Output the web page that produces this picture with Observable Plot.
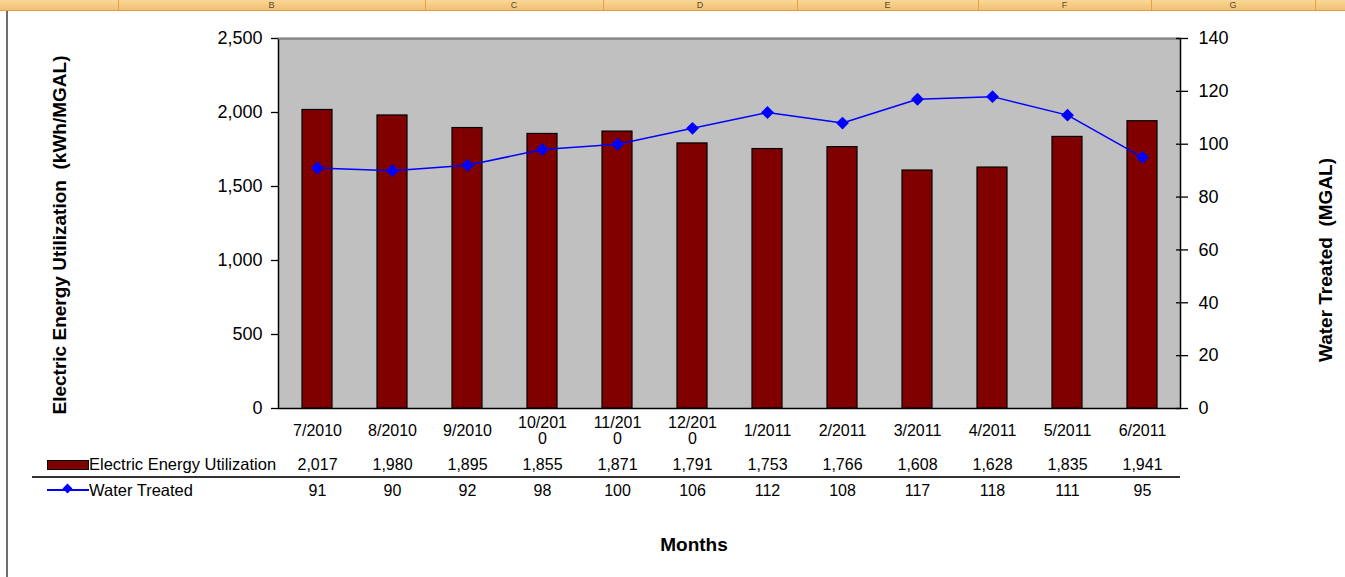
<!DOCTYPE html>
<html>
<head>
<meta charset="utf-8">
<script src="https://cdn.jsdelivr.net/npm/d3@7"></script>
<script src="https://cdn.jsdelivr.net/npm/@observablehq/plot@0.6"></script>
<style>
  html, body { margin: 0; padding: 0; background: #fff; }
  body { width: 1345px; height: 577px; position: relative; overflow: hidden; font-family: "Liberation Sans", Arial, sans-serif; }
  #chart { position: absolute; left: 0; top: 0; }
  .hdr { position: absolute; left: 0; top: 0; width: 1345px; height: 10px; overflow: hidden;
         background: linear-gradient(#f9d798, #f2c071); border-bottom: 1px solid #e39a45; z-index: 5; }
  .hdr .sep { position: absolute; top: 0; width: 1px; height: 10px; background: #e6a04d; }
  .hdr .col { position: absolute; top: 0px; font-size: 9px; line-height: 10px; color: #5a4a30; transform: translateX(-50%); }
  .vline { position: absolute; left: 6px; top: 11px; width: 2px; height: 566px; background: #6e6e6e; z-index: 4; }
  .title { position: absolute; font-weight: bold; font-size: 19px; color: #000; white-space: pre; z-index: 3; }
  .rot { transform: translate(-50%, -50%) rotate(-90deg); }
  .leg { position: absolute; font-size: 16.5px; color: #000; white-space: pre; z-index: 3; }
  .sw { position: absolute; z-index: 3; }
</style>
</head>
<body>
<div class="hdr" id="hdr"></div>
<div class="vline"></div>
<div id="chart"></div>
<script>
// ---- data ----
const months = ["7/2010","8/2010","9/2010","10/2010","11/2010","12/2010","1/2011","2/2011","3/2011","4/2011","5/2011","6/2011"];
const monthLabels = ["7/2010","8/2010","9/2010","10/201\n0","11/201\n0","12/201\n0","1/2011","2/2011","3/2011","4/2011","5/2011","6/2011"];
const energy = [2017,1980,1895,1855,1871,1791,1753,1766,1608,1628,1835,1941];
const water = [91,90,92,98,100,106,112,108,117,118,111,95];
const leftTicks = [0,500,1000,1500,2000,2500];
const rightTicks = [0,20,40,60,80,100,120,140];
const leftMax = 2500, rightMax = 140;
const headerCols = ["B","C","D","E","F","G"];

// header strip (spreadsheet column headings)
const seps = [118,425,603,797,978,1151,1315];
const hdr = document.getElementById("hdr");
seps.forEach(x => { const d = document.createElement("div"); d.className = "sep"; d.style.left = x + "px"; hdr.appendChild(d); });
headerCols.forEach((c, i) => { const d = document.createElement("div"); d.className = "col"; d.textContent = c;
  d.style.left = ((seps[i] + seps[i+1]) / 2) + "px"; hdr.appendChild(d); });

const data = months.map((m, i) => ({month: m, label: monthLabels[i], energy: energy[i], water: water[i]}));
const toLeft = v => v * leftMax / rightMax;
const fmt = d3.format(",");

const chart = Plot.plot({
  width: 1345,
  height: 577,
  marginLeft: 278,
  marginRight: 165,
  marginTop: 38,
  marginBottom: 169,
  style: {fontFamily: '"Liberation Sans", Arial, sans-serif', background: "transparent", color: "#000"},
  x: {type: "band", domain: months, paddingInner: 0.6, paddingOuter: 0.3, axis: null},
  y: {domain: [0, leftMax], axis: null},
  marks: [
    Plot.frame({fill: "#c0c0c0", stroke: "#000", strokeWidth: 1.5}),
    Plot.ruleY([leftMax], {stroke: "#8a8a8a", strokeWidth: 1.5}),
    Plot.barY(data, {x: "month", y: "energy", fill: "#800000", stroke: "#000", strokeWidth: 1.2}),
    Plot.line(data, {x: "month", y: d => toLeft(d.water), stroke: "#0000ff", strokeWidth: 1.5}),
    Plot.dot(data, {x: "month", y: d => toLeft(d.water), symbol: "diamond2", r: 5.8, fill: "#0000ff", stroke: "none"}),
    Plot.axisY(leftTicks, {anchor: "left", tickSize: 7, tickPadding: 9, tickFormat: fmt, fontSize: 18, label: null, strokeWidth: 1.3}),
    Plot.axisY(rightTicks.map(toLeft), {anchor: "right", tickSize: 12, dx: -5, tickPadding: 11, tickFormat: d => Math.round(d * rightMax / leftMax), fontSize: 18, label: null, strokeWidth: 1.3}),
    Plot.text(data, {x: "month", text: "label", frameAnchor: "bottom", dy: 22, lineAnchor: "middle", lineHeight: 1.0, fontSize: 16, fill: "#000"}),
    Plot.text(data, {x: "month", text: d => fmt(d.energy), frameAnchor: "bottom", dy: 56, lineAnchor: "middle", fontSize: 16, fill: "#000"}),
    Plot.text(data, {x: "month", text: d => fmt(d.water), frameAnchor: "bottom", dy: 82, lineAnchor: "middle", fontSize: 16, fill: "#000"})
  ]
});
document.getElementById("chart").appendChild(chart);

// titles and data-table legend
function add(cls, text, css) {
  const d = document.createElement("div"); d.className = cls; if (text) d.textContent = text;
  Object.assign(d.style, css); document.body.appendChild(d); return d;
}
add("title rot", "Electric Energy Utilization  (kWh/MGAL)", {left: "60px", top: "235px"});
add("title rot", "Water Treated  (MGAL)", {left: "1326px", top: "260px"});
add("title", "Months", {left: "694px", top: "545px", transform: "translate(-50%, -50%)"});
// table separator line
add("sw", "", {left: "32px", top: "476px", width: "1148px", height: "1.5px", background: "#333"});
// legend: energy swatch
add("sw", "", {left: "47px", top: "460px", width: "40px", height: "8px", background: "#800000", border: "1px solid #000"});
add("leg", "Electric Energy Utilization", {left: "89px", top: "464px", transform: "translateY(-50%)"});
// legend: water line + diamond
add("sw", "", {left: "47px", top: "489px", width: "42px", height: "1.5px", background: "#0000ff"});
add("sw", "", {left: "64px", top: "485px", width: "7px", height: "7px", background: "#0000ff", transform: "rotate(45deg)"});
add("leg", "Water Treated", {left: "89px", top: "490px", transform: "translateY(-50%)"});
</script>
</body>
</html>
